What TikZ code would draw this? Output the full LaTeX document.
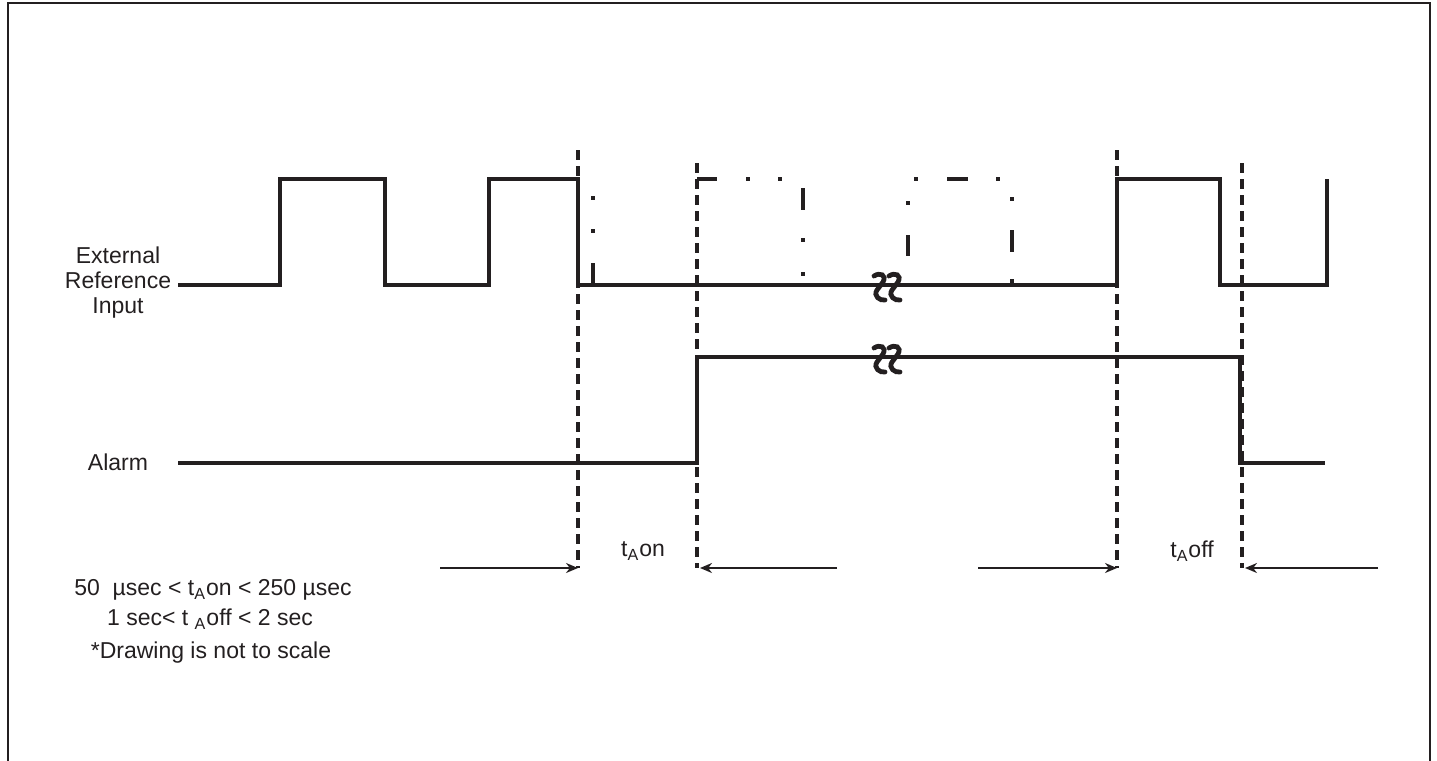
\documentclass[tikz,border=0pt]{standalone}
\usepackage{fontspec}
\setmainfont{Liberation Sans}
\usetikzlibrary{arrows.meta}
\definecolor{ink}{HTML}{231F20}

\begin{document}
\begin{tikzpicture}[x=0.5pt, y=-0.5pt, ink,
    signal/.style={line width=2pt},
    marker/.style={line width=2pt, dash pattern=on 5pt off 3pt},
    timing/.style={line width=1pt, -{Stealth[length=6pt,width=5pt]}},
    brk/.style={line width=2.4pt, line cap=round},
    every node/.style={font=\fontsize{11.5}{12.5}\selectfont, inner sep=0pt}]
\useasboundingbox (0,0) rectangle (1437,761);
% Frame
    \draw[line width=0.8pt] (8,761) -- (8,3) -- (1430,3) -- (1430,761);
% External reference input
    \draw[signal] (178,285) -- (280,285) -- (280,179) -- (385,179) -- (385,285)
        -- (489,285) -- (489,179) -- (578,179) -- (578,285) -- (1117,285)
        -- (1117,179) -- (1220,179) -- (1220,285) -- (1327,285) -- (1327,179);
% Missing pulses
    \foreach \x/\ya/\yb in {593/263/285, 803/188/210, 908/235/256, 1012/230/252}
        \draw[signal] (\x,\ya) -- (\x,\yb);
    \foreach \xa/\xb in {697/717, 947/968}
        \draw[signal] (\xa,179) -- (\xb,179);
    \foreach \x/\y in {593/231, 593/198, 748/179, 780/179, 803/240, 803/274,
        908/203, 916/179, 998/179, 1012/199, 1012/281}
        \fill (\x-2,\y-2) rectangle (\x+2,\y+2);
% Alarm
    \draw[signal] (178,463) -- (697,463) -- (697,357) -- (1240,357) -- (1240,463) -- (1325,463);
% Breaks
    \foreach \y in {287,359}
        \foreach \x in {880,895}
            \draw[brk] (\x-6,\y-11) .. controls (\x,\y-15) and (\x+7,\y-12) .. (\x+3,\y-5)
                -- (\x-3,\y+3) .. controls (\x-7,\y+9) and (\x,\y+14) .. (\x+5,\y+13);
% Time markers
    \coordinate (m1top) at (578,150);
    \coordinate (m2top) at (697,163);
    \coordinate (m3top) at (1117,150);
    \coordinate (m4top) at (1242,163);
    \coordinate (m1) at (578,568);
    \coordinate (m2) at (697,568);
    \coordinate (m3) at (1117,568);
    \coordinate (m4) at (1242,568);
    \foreach \m in {1,2,3,4}
        \draw[marker] (m\m top) -- (m\m);
% Timing arrows
    \coordinate (ton left) at (440,568);
    \coordinate (ton right) at (837,568);
    \coordinate (toff left) at (978,568);
    \coordinate (toff right) at (1378,568);
    \draw[timing] (ton left) -- (m1);
    \draw[timing] (ton right) -- ([xshift=1.5pt]m2);
    \draw[timing] (toff left) -- (m3);
    \draw[timing] (toff right) -- ([xshift=1.5pt]m4);
% Labels
    \node[align=center] (ext) at (118,283) {External\\Reference\\Input};
    \node (alarm) at (118,462) {Alarm};
    \node (ton) at (643,551) {t\textsubscript{A}on};
    \node (toff) at (1192,551) {t\textsubscript{A}off};
    \node (ton range) at (213,590) {50 \ \textmu sec < t\textsubscript{A}on < 250 \textmu sec};
    \node (toff range) at (210,619) {1 sec< t \textsubscript{A}off < 2 sec};
    \node (note) at (211,653) {*Drawing is not to scale};
\end{tikzpicture}
\end{document}
